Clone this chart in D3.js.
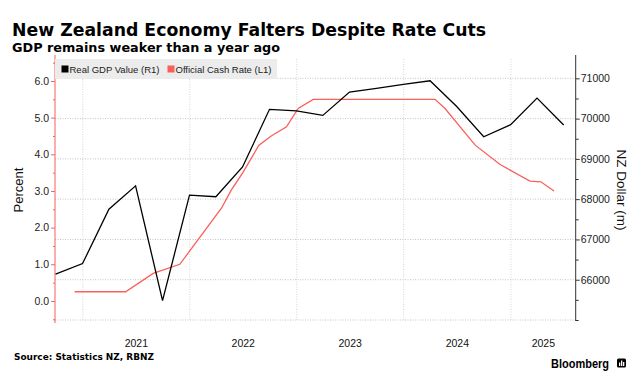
<!DOCTYPE html>
<html>
<head>
<meta charset="utf-8">
<script src="https://cdn.jsdelivr.net/npm/d3@7"></script>
<style>
  body { margin: 0; background: #fff; }
  text { font-family: "Liberation Sans", Arial, sans-serif; }
</style>
</head>
<body>
<script>
// quarterly real GDP, NZD millions (right axis)
var gdpDates = ["2020-09-30", "2020-12-31", "2021-03-31", "2021-06-30", "2021-09-30", "2021-12-31",
                "2022-03-31", "2022-06-30", "2022-09-30", "2022-12-31", "2023-03-31", "2023-06-30",
                "2023-09-30", "2023-12-31", "2024-03-31", "2024-06-30", "2024-09-30", "2024-12-31",
                "2025-03-31", "2025-06-30"];
var gdpValues = [66140, 66400, 67750, 68330, 65480, 68100,
                 68060, 68800, 70230, 70190, 70080, 70660,
                 70750, 70850, 70940, 70300, 69550, 69850,
                 70510, 69840];

// official cash rate, percent (left axis)
var ocrDates = ["2020-12-04", "2021-05-27", "2021-08-29", "2021-11-28", "2022-04-19", "2022-05-23",
                "2022-07-01", "2022-08-25", "2022-10-06", "2022-11-27", "2023-01-06", "2023-02-26",
                "2024-04-17", "2024-05-21", "2024-09-01", "2024-11-25", "2025-03-07", "2025-04-13",
                "2025-05-28"];
var ocrValues = [0.25, 0.25, 0.75, 1.0, 2.53, 3.03,
                 3.5, 4.25, 4.5, 4.75, 5.25, 5.5,
                 5.5, 5.25, 4.25, 3.72, 3.27, 3.25,
                 3.0];

var leftTicks = [0, 1, 2, 3, 4, 5, 6];
var leftMinor = [-0.5, 0.5, 1.5, 2.5, 3.5, 4.5, 5.5, 6.5];
var rightTicks = [66000, 67000, 68000, 69000, 70000, 71000];
var rightMinor = [65000, 65500, 66500, 67500, 68500, 69500, 70500];
var years = [2021, 2022, 2023, 2024, 2025];

var legendItems = ["Real GDP Value (R1)", "Official Cash Rate (L1)"];
var legendColors = ["#000", "#fa5f5a"];

var width = 637, height = 377;
var plotL = 55, plotR = 575.7, plotT = 59, plotB = 320;
var red = "#fa5f5a";

var parse = d3.timeParse("%Y-%m-%d");

var svg = d3.select("body").append("svg")
    .attr("width", width)
    .attr("height", height);

var x = d3.scaleTime()
    .domain([parse("2020-09-28"), parse("2025-08-10")])
    .range([plotL, plotR]);
var yL = d3.scaleLinear().domain([-0.52, 6.6]).range([plotB, plotT]);
var yR = d3.scaleLinear().domain([65000, 71480]).range([plotB, plotT]);

// title block
svg.append("text")
    .attr("x", 12).attr("y", 36)
    .attr("textLength", 474).attr("lengthAdjust", "spacingAndGlyphs")
    .style("font-family", "DejaVu Sans").style("font-weight", "bold")
    .style("font-size", "18.5px")
    .text("New Zealand Economy Falters Despite Rate Cuts");
svg.append("text")
    .attr("x", 12).attr("y", 51.5)
    .attr("textLength", 268).attr("lengthAdjust", "spacingAndGlyphs")
    .style("font-family", "DejaVu Sans").style("font-weight", "bold")
    .style("font-size", "12.5px")
    .text("GDP remains weaker than a year ago");

// grid
var grid = svg.append("g").attr("class", "grid");
grid.selectAll(".hg")
    .data([65000].concat(rightTicks))
    .enter().append("line")
    .attr("x1", plotL).attr("x2", plotR)
    .attr("y1", function(d) { return yR(d); })
    .attr("y2", function(d) { return yR(d); })
    .style("stroke", "#c4c4c4")
    .style("stroke-dasharray", "1,1.5");
grid.selectAll(".vg")
    .data(years)
    .enter().append("line")
    .attr("x1", function(d) { return x(new Date(d, 0, 1)); })
    .attr("x2", function(d) { return x(new Date(d, 0, 1)); })
    .attr("y1", plotT).attr("y2", plotB)
    .style("stroke", "#d6d6d6")
    .style("stroke-dasharray", "1,1.5");

// year labels centred in visible part of each year
svg.selectAll(".year")
    .data(years)
    .enter().append("text")
    .attr("x", function(d) {
        var a = x(new Date(d, 0, 1));
        var b = Math.min(x(new Date(d + 1, 0, 1)), plotR);
        return (a + b) / 2;
    })
    .attr("y", 346.5)
    .attr("text-anchor", "middle")
    .style("font-size", "10.5px")
    .style("fill", "#111")
    .text(function(d) { return d; });

// left axis
var leftAxis = svg.append("g")
    .attr("transform", "translate(" + plotL + ",0)")
    .call(d3.axisLeft(yL).tickValues(leftTicks).tickFormat(d3.format(".1f")).tickSize(4).tickPadding(2));
leftAxis.select(".domain").remove();
leftAxis.selectAll("line").style("stroke", red);
leftAxis.selectAll("text").style("font-size", "10.5px").style("fill", "#222")
    .style("font-family", "Liberation Sans");
var leftMin = svg.append("g")
    .attr("transform", "translate(" + plotL + ",0)")
    .call(d3.axisLeft(yL).tickValues(leftMinor).tickFormat("").tickSize(2));
leftMin.select(".domain").remove();
leftMin.selectAll("line").style("stroke", red);
svg.append("line")
    .attr("x1", plotL).attr("x2", plotL)
    .attr("y1", plotT - 4).attr("y2", plotB + 3)
    .style("stroke", red).style("stroke-width", 1);

// right axis
var rightAxis = svg.append("g")
    .attr("transform", "translate(" + plotR + ",0)")
    .call(d3.axisRight(yR).tickValues(rightTicks).tickFormat(d3.format("d")).tickSize(4).tickPadding(1));
rightAxis.select(".domain").remove();
rightAxis.selectAll("line").style("stroke", "#333");
rightAxis.selectAll("text").style("font-size", "10.5px").style("fill", "#222")
    .style("font-family", "Liberation Sans");
var rightMin = svg.append("g")
    .attr("transform", "translate(" + plotR + ",0)")
    .call(d3.axisRight(yR).tickValues(rightMinor).tickFormat("").tickSize(3));
rightMin.select(".domain").remove();
rightMin.selectAll("line").style("stroke", "#333");
svg.append("line")
    .attr("x1", plotR).attr("x2", plotR)
    .attr("y1", plotT - 4).attr("y2", plotB + 1)
    .style("stroke", "#333").style("stroke-width", 1);

// axis titles
svg.append("text")
    .attr("transform", "translate(23,190) rotate(-90)")
    .attr("text-anchor", "middle")
    .style("font-size", "13px").style("fill", "#111")
    .text("Percent");
svg.append("text")
    .attr("transform", "translate(617,190) rotate(90)")
    .attr("text-anchor", "middle")
    .style("font-size", "13.5px").style("fill", "#111")
    .text("NZ Dollar (m)");

// lines
var ocrLine = d3.line()
    .x(function(d, i) { return x(parse(ocrDates[i])); })
    .y(function(d) { return yL(d); });
var gdpLine = d3.line()
    .x(function(d, i) { return x(parse(gdpDates[i])); })
    .y(function(d) { return yR(d); });

svg.append("path")
    .attr("d", ocrLine(ocrValues))
    .style("fill", "none")
    .style("stroke", red)
    .style("stroke-width", 1.3);
svg.append("path")
    .attr("d", gdpLine(gdpValues))
    .style("fill", "none")
    .style("stroke", "#000")
    .style("stroke-width", 1.3);

// legend
var legend = svg.append("g");
legend.append("rect")
    .attr("x", plotL).attr("y", plotT)
    .attr("width", 222).attr("height", 20)
    .style("fill", "#ececec");
var legendX = [61.5, 167.5];
legendItems.forEach(function(name, i) {
    legend.append("rect")
        .attr("x", legendX[i]).attr("y", 65.5)
        .attr("width", 7).attr("height", 7)
        .style("fill", legendColors[i]);
    legend.append("text")
        .attr("x", legendX[i] + 8).attr("y", 72.5)
        .style("font-size", "9.5px").style("fill", "#222")
        .text(name);
});

// footer
svg.append("text")
    .attr("x", 14).attr("y", 359.5)
    .attr("textLength", 140).attr("lengthAdjust", "spacingAndGlyphs")
    .style("font-family", "DejaVu Sans").style("font-weight", "bold")
    .style("font-size", "9px")
    .text("Source: Statistics NZ, RBNZ");
svg.append("text")
    .attr("x", 551).attr("y", 367.5)
    .attr("textLength", 58).attr("lengthAdjust", "spacingAndGlyphs")
    .style("font-family", "Liberation Sans").style("font-weight", "bold")
    .style("font-size", "12px")
    .text("Bloomberg");
var logo = svg.append("g").attr("transform", "translate(617,358.5)");
logo.append("rect").attr("width", 9).attr("height", 9).attr("rx", 1.5).style("fill", "#000");
logo.append("rect").attr("x", 2).attr("y", 4).attr("width", 1.3).attr("height", 3.5).style("fill", "#fff");
logo.append("rect").attr("x", 4).attr("y", 2).attr("width", 1.3).attr("height", 5.5).style("fill", "#fff");
logo.append("rect").attr("x", 6).attr("y", 3.5).attr("width", 1.3).attr("height", 4).style("fill", "#fff");
</script>
</body>
</html>
